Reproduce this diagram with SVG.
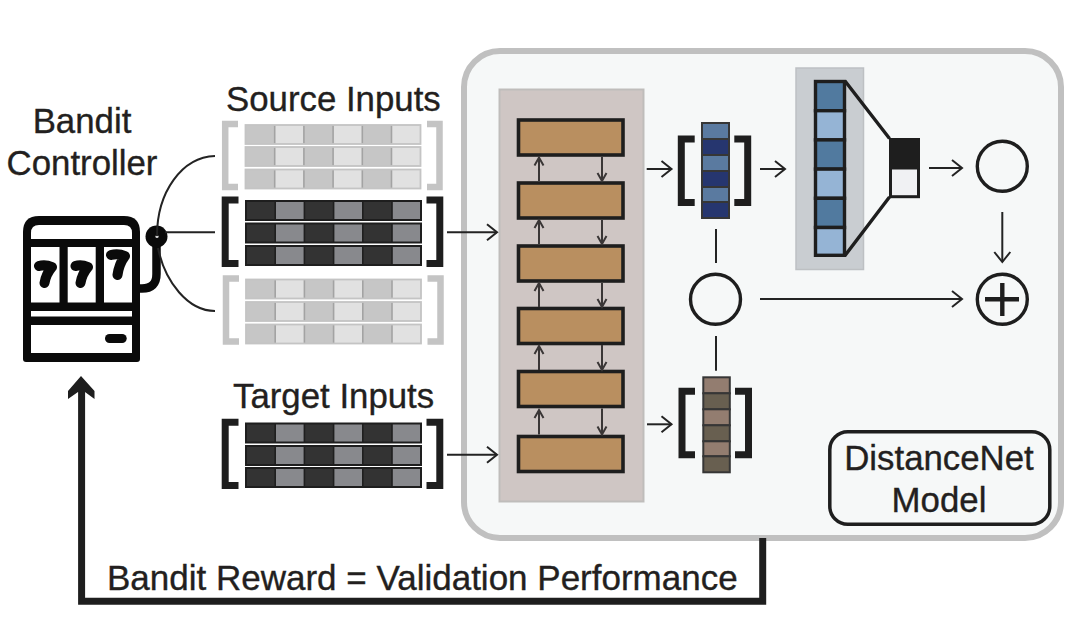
<svg xmlns="http://www.w3.org/2000/svg" xmlns:xlink="http://www.w3.org/1999/xlink" width="1088" height="632" viewBox="0 0 1088 632">
<style>
text{font-family:"Liberation Sans",Arial,sans-serif;font-size:34.8px;fill:#231f20;stroke:#231f20;stroke-width:.35}
.mid{text-anchor:middle}
.bl{fill:none;stroke:#1e1e1e;stroke-width:7}
.bg{fill:none;stroke:#c4c4c4;stroke-width:6.5}
.enc{fill:#b98f60;stroke:#1e1e1e;stroke-width:3.6}
.ln{fill:none;stroke:#232323;stroke-width:2}
.in{fill:none;stroke:#3a3636;stroke-width:2}
.c{fill:none;stroke:#1e1e1e;stroke-width:3.4}
.v{stroke:#363636;stroke-width:2}
.w{stroke:#1e1e1e;stroke-width:3.4}
</style>
<defs>
<marker id="ah" markerUnits="userSpaceOnUse" markerWidth="24" markerHeight="24" refX="12" refY="12" orient="auto" overflow="visible"><path d="M2 4 L12 12 L2 20" fill="none" stroke="#232323" stroke-width="2"/></marker>
<marker id="as" markerUnits="userSpaceOnUse" markerWidth="24" markerHeight="24" refX="12" refY="12" orient="auto" overflow="visible"><path d="M4 7.5 L12 12 L4 16.5" fill="none" stroke="#3a3636" stroke-width="2"/></marker>
<g id="lr"><rect x="0" y="0" width="175" height="19" fill="#c6c6c6"/><rect x="29.2" y="0" width="29.2" height="19" fill="#e1e1e1"/><rect x="87.6" y="0" width="29.2" height="19" fill="#e1e1e1"/><rect x="146" y="0" width="29" height="19" fill="#e1e1e1"/><path d="M29.2 0V19M58.4 0V19M87.6 0V19M116.8 0V19M146 0V19" stroke="#a3a3a3" stroke-width="1.6"/><rect x="0" y="0" width="175" height="19" fill="none" stroke="#c4c4c4" stroke-width="1.8"/></g>
<g id="dr"><rect x="0" y="0" width="175" height="19" fill="#333333"/><rect x="29.2" y="0" width="29.2" height="19" fill="#88898d"/><rect x="87.6" y="0" width="29.2" height="19" fill="#88898d"/><rect x="146" y="0" width="29" height="19" fill="#88898d"/><path d="M29.2 0V19M58.4 0V19M87.6 0V19M116.8 0V19M146 0V19" stroke="#1f1f1f" stroke-width="1.6"/><rect x="0" y="0" width="175" height="19" fill="none" stroke="#1e1e1e" stroke-width="2"/></g>
</defs>
<rect width="1088" height="632" fill="#ffffff"/>

<g id="panel"><rect x="464" y="51" width="597" height="487" rx="36" fill="#f6f8f8" stroke="#c0c0c0" stroke-width="6"/></g>

<g id="bandit-label"><text class="mid" x="82" y="132.5">Bandit</text><text class="mid" x="82" y="174.5">Controller</text></g>

<g id="slot-machine">
<path d="M23 232 Q23 216 39 216 H124 Q140 216 140 232 V359 Q140 362 137 362 H26 Q23 362 23 359 Z" fill="#0a0a0a"/>
<path d="M31 239 V233 Q31 225 39 225 H124 Q132 225 132 233 V239 Z" fill="#fff"/>
<rect x="31" y="247" width="28.5" height="55.5" fill="#fff"/>
<rect x="67.7" y="247" width="28" height="55.5" fill="#fff"/>
<rect x="104" y="247" width="28" height="55.5" fill="#fff"/>
<rect x="31" y="311" width="101" height="5.5" fill="#fff"/>
<rect x="31" y="325" width="101" height="28" fill="#fff"/>
<rect x="105" y="334" width="21.7" height="9" rx="4.5" fill="#0a0a0a"/>
<path d="M39 266 Q45 264 52 267 Q46 274 44.5 283 M75.5 266 Q81 264 88 267 Q82 274 80.5 283 M111 255 Q118 253 125 256 Q119 264 117.5 275" fill="none" stroke="#0a0a0a" stroke-width="10" stroke-linecap="round" stroke-linejoin="round"/>
<path d="M156.5 240 V274 Q156.5 288.5 142 288.5 H138" fill="none" stroke="#0a0a0a" stroke-width="8.5"/>
<circle cx="156.5" cy="236.5" r="11" fill="#0a0a0a"/>
<circle cx="157" cy="236.5" r="1.6" fill="#d8d8d8"/>
</g>

<g id="source-label"><text x="226" y="110.5">Source Inputs</text></g>

<g id="source-1">
<path class="bg" d="M238 124 H225.2 V187 H238"/><path class="bg" d="M427 124 H439.5 V187 H427"/>
<use xlink:href="#lr" href="#lr" x="245.5" y="125"/><use xlink:href="#lr" href="#lr" x="245.5" y="147"/><use xlink:href="#lr" href="#lr" x="245.5" y="169.5"/>
</g>
<g id="source-2">
<path class="bl" d="M238.5 200 H225.2 V263.5 H238.5"/><path class="bl" d="M426.5 200 H439.8 V263.5 H426.5"/>
<use xlink:href="#dr" href="#dr" x="246" y="201"/><use xlink:href="#dr" href="#dr" x="246" y="223.5"/><use xlink:href="#dr" href="#dr" x="246" y="246"/>
</g>
<g id="source-3">
<path class="bg" d="M239 278.5 H226 V341.5 H239"/><path class="bg" d="M427.5 278.5 H440.5 V341.5 H427.5"/>
<use xlink:href="#lr" href="#lr" x="246" y="279.5"/><use xlink:href="#lr" href="#lr" x="246" y="302"/><use xlink:href="#lr" href="#lr" x="246" y="324.5"/>
</g>

<g id="target-label"><text x="233" y="408">Target Inputs</text></g>
<g id="target">
<path class="bl" d="M238.5 422.3 H225.2 V485.5 H238.5"/><path class="bl" d="M426.5 422.3 H439.8 V485.5 H426.5"/>
<use xlink:href="#dr" href="#dr" x="246" y="423.5"/><use xlink:href="#dr" href="#dr" x="246" y="446"/><use xlink:href="#dr" href="#dr" x="246" y="468"/>
</g>

<g id="encoder-panel"><rect x="499.5" y="89.5" width="144" height="412" fill="#cfc6c4" stroke="#bfbdbb" stroke-width="2"/></g>
<g id="enc-1"><rect class="enc" x="518.5" y="120" width="104.5" height="35"/></g>
<g id="enc-2"><rect class="enc" x="518.5" y="183" width="104.5" height="35"/></g>
<g id="enc-3"><rect class="enc" x="518.5" y="246" width="104.5" height="35"/></g>
<g id="enc-4"><rect class="enc" x="518.5" y="308.5" width="104.5" height="35"/></g>
<g id="enc-5"><rect class="enc" x="518.5" y="371.5" width="104.5" height="35"/></g>
<g id="enc-6"><rect class="enc" x="518.5" y="436.5" width="104.5" height="35"/></g>

<g id="source-embedding">
<path class="bl" d="M694.7 139 H681.3 V202.5 H694.7"/><path class="bl" d="M734.3 139 H747.7 V202.5 H734.3"/>
<g class="v"><rect x="702" y="123" width="27" height="16" fill="#5a7aa0"/><rect x="702" y="139" width="27" height="16" fill="#26366f"/><rect x="702" y="155" width="27" height="16" fill="#5a7aa0"/><rect x="702" y="171" width="27" height="16" fill="#26366f"/><rect x="702" y="187" width="27" height="15" fill="#5a7aa0"/><rect x="702" y="202" width="27" height="16" fill="#26366f"/></g>
</g>
<g id="target-embedding">
<path class="bl" d="M695 391.2 H682 V454.7 H695"/><path class="bl" d="M735 391.2 H748.5 V454.7 H735"/>
<g class="v"><rect x="703.3" y="377.3" width="26.5" height="16" fill="#937d70"/><rect x="703.3" y="393.3" width="26.5" height="16" fill="#685f50"/><rect x="703.3" y="409.3" width="26.5" height="16" fill="#937d70"/><rect x="703.3" y="425.3" width="26.5" height="16" fill="#685f50"/><rect x="703.3" y="441.3" width="26.5" height="15" fill="#937d70"/><rect x="703.3" y="456.3" width="26.5" height="16" fill="#685f50"/></g>
</g>

<g id="distance"><circle class="c" cx="715.5" cy="299.3" r="25"/></g>

<g id="classifier-panel"><rect x="796" y="68" width="67.5" height="201.5" fill="#c9cdd1" stroke="#bdc0c3" stroke-width="1.5"/></g>
<g id="classifier">
<g class="w"><rect x="815.5" y="81.5" width="29" height="29.2" fill="#517a9f"/><rect x="815.5" y="110.7" width="29" height="29.2" fill="#95b4d5"/><rect x="815.5" y="139.9" width="29" height="29.2" fill="#517a9f"/><rect x="815.5" y="169.1" width="29" height="29.2" fill="#95b4d5"/><rect x="815.5" y="198.3" width="29" height="29.2" fill="#517a9f"/><rect x="815.5" y="227.5" width="29" height="27.8" fill="#95b4d5"/></g>
<path d="M845 81 L889.5 138.5 M845 255.5 L889.5 197" fill="none" stroke="#1e1e1e" stroke-width="3.4"/>
<rect x="889" y="138" width="31" height="30" fill="#1e1e1e"/>
<rect x="890.5" y="168" width="28" height="28.7" fill="#f0f1f3" stroke="#1e1e1e" stroke-width="3"/>
</g>
<g id="domain"><circle class="c" cx="1002.3" cy="166.3" r="25"/></g>
<g id="sum"><circle class="c" cx="1002.3" cy="299.3" r="25"/><path d="M985 299.3 H1019 M1002.3 283 V316" fill="none" stroke="#1e1e1e" stroke-width="4.4"/></g>

<g id="model-label"><rect x="829.8" y="431.8" width="220" height="92.5" rx="18" fill="#f6f8f8" stroke="#1e1e1e" stroke-width="3.5"/><text class="mid" x="939" y="469.5">DistanceNet</text><text class="mid" x="939" y="511.5">Model</text></g>

<g id="reward-label"><text x="107" y="590" style="font-size:35px">Bandit Reward = Validation Performance</text></g>

<g id="connectors">
<path class="ln" d="M215 156 C182 157 157 192 157 236" stroke-width="1.6"/>
<path class="ln" d="M158 248 C165 282 188 311 215 311" stroke-width="1.6"/>
<path class="ln" d="M165 232.3 H215"/>
<path class="ln" d="M447 232.3 H497" marker-end="url(#ah)"/>
<path class="ln" d="M447 454.7 H497" marker-end="url(#ah)"/>
<path class="ln" d="M646.7 169 H671.5" marker-end="url(#ah)"/>
<path class="ln" d="M760 169 H785" marker-end="url(#ah)"/>
<path class="ln" d="M647 424.3 H671.5" marker-end="url(#ah)"/>
<path class="ln" d="M929 168 H962" marker-end="url(#ah)"/>
<path class="ln" d="M1002.3 212 V262" marker-end="url(#ah)"/>
<path class="ln" d="M760 299 H962" marker-end="url(#ah)"/>
<path class="ln" d="M716 229 V263" stroke-width="2.6"/>
<path class="ln" d="M716 336 V370.7" stroke-width="2.6"/>
<path class="in" d="M539 181 V157.5" marker-end="url(#as)"/>
<path class="in" d="M539 244 V220" marker-end="url(#as)"/>
<path class="in" d="M539 307 V283" marker-end="url(#as)"/>
<path class="in" d="M539 370 V346" marker-end="url(#as)"/>
<path class="in" d="M539 434.5 V410" marker-end="url(#as)"/>
<path class="in" d="M602 157 V181" marker-end="url(#as)"/>
<path class="in" d="M602 220 V244" marker-end="url(#as)"/>
<path class="in" d="M602 283 V307" marker-end="url(#as)"/>
<path class="in" d="M602 345 V370" marker-end="url(#as)"/>
<path class="in" d="M602 408.5 V434.5" marker-end="url(#as)"/>
<path d="M762.7 538 V601.2 H81.6 V392" fill="none" stroke="#1e1e1e" stroke-width="7"/>
<path d="M81 376 L94.5 391 V399 L85 392 H78 L68 399 V391 Z" fill="#1e1e1e"/>
</g>
</svg>
